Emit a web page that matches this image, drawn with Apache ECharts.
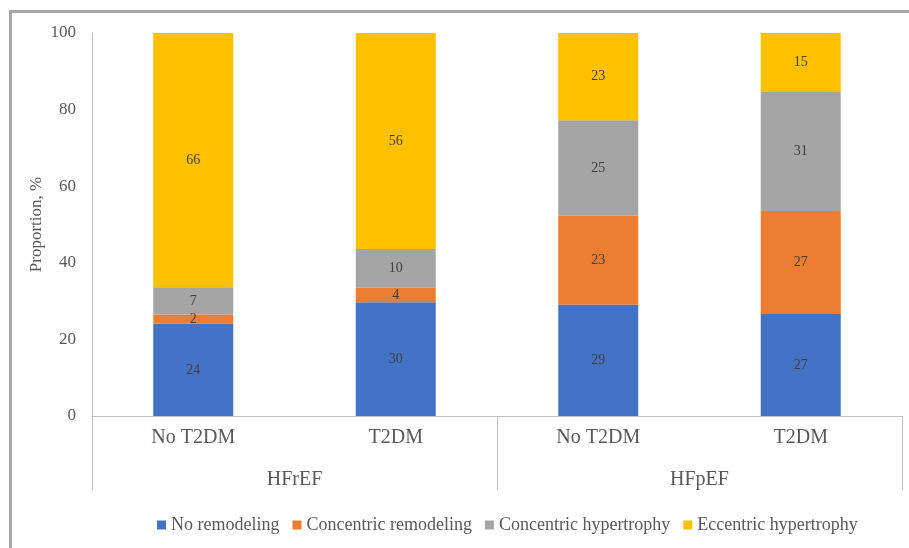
<!DOCTYPE html>
<html>
<head>
<meta charset="utf-8">
<script src="https://cdn.jsdelivr.net/npm/echarts@6/dist/echarts.min.js"></script>
<style>html,body{margin:0;padding:0;background:#fff}#c{width:909px;height:548px}</style>
</head>
<body>
<div id="c"></div>
<script>
const categories = ['No T2DM', 'T2DM', 'No T2DM', 'T2DM'];
const groups = ['HFrEF', 'HFpEF'];
const seriesNames = ['No remodeling', 'Concentric remodeling', 'Concentric hypertrophy', 'Eccentric hypertrophy'];
const noRemodeling = [24.1, 29.7, 29.1, 26.6];
const concentricRemodeling = [2.4, 3.8, 23.2, 26.9];
const concentricHypertrophy = [7.1, 10.1, 24.9, 31.1];
const eccentricHypertrophy = [66.4, 56.4, 22.8, 15.4];
const yTicks = [0, 20, 40, 60, 80, 100];

const colors = ['#4472c4', '#ed7d31', '#a5a5a5', '#ffc000'];
const font = 'Liberation Serif';
const values = [noRemodeling, concentricRemodeling, concentricHypertrophy, eccentricHypertrophy];

const chart = echarts.init(document.getElementById('c'));
chart.setOption({
  animation: false,
  color: colors,
  textStyle: { fontFamily: font },
  grid: { left: 92, right: 7, top: 33, bottom: 132 },
  graphic: [{
    type: 'rect',
    shape: { x: 10.5, y: 11.5, width: 1000, height: 1000 },
    style: { fill: 'none', stroke: '#a6a6a6', lineWidth: 3 },
    silent: true
  }],
  legend: {
    bottom: 9,
    left: 152,
    itemWidth: 9,
    itemHeight: 9,
    itemGap: 13,
    icon: 'rect',
    textStyle: { fontFamily: font, fontSize: 18, color: '#595959' },
    data: seriesNames
  },
  xAxis: [{
    type: 'category',
    data: categories,
    axisLine: { lineStyle: { color: '#bfbfbf', width: 1 } },
    axisTick: { show: false },
    axisLabel: { fontFamily: font, fontSize: 20, color: '#595959', margin: 12 }
  }, {
    type: 'category',
    data: groups,
    position: 'bottom',
    axisLine: { show: false },
    axisTick: { show: true, length: 74, lineStyle: { color: '#bfbfbf', width: 1 } },
    axisLabel: { fontFamily: font, fontSize: 20, color: '#595959', margin: 54 }
  }],
  yAxis: {
    type: 'value',
    min: 0,
    max: 100,
    interval: 20,
    name: 'Proportion, %',
    nameLocation: 'middle',
    nameGap: 47,
    nameMoveOverlap: false,
    nameTextStyle: { fontFamily: font, fontSize: 17, color: '#595959' },
    axisLine: { show: true, lineStyle: { color: '#bfbfbf', width: 1 } },
    axisTick: { show: false },
    splitLine: { show: false },
    axisLabel: { fontFamily: font, fontSize: 17, color: '#595959', margin: 16 }
  },
  series: seriesNames.map((name, i) => ({
    name: name,
    type: 'bar',
    stack: 'total',
    barWidth: 80,
    xAxisIndex: 0,
    data: values[i],
    itemStyle: { color: colors[i] },
    label: {
      show: true,
      position: 'inside',
      fontFamily: font,
      fontSize: 14,
      color: '#404040',
      formatter: p => Math.round(p.value)
    }
  }))
});
</script>
</body>
</html>
